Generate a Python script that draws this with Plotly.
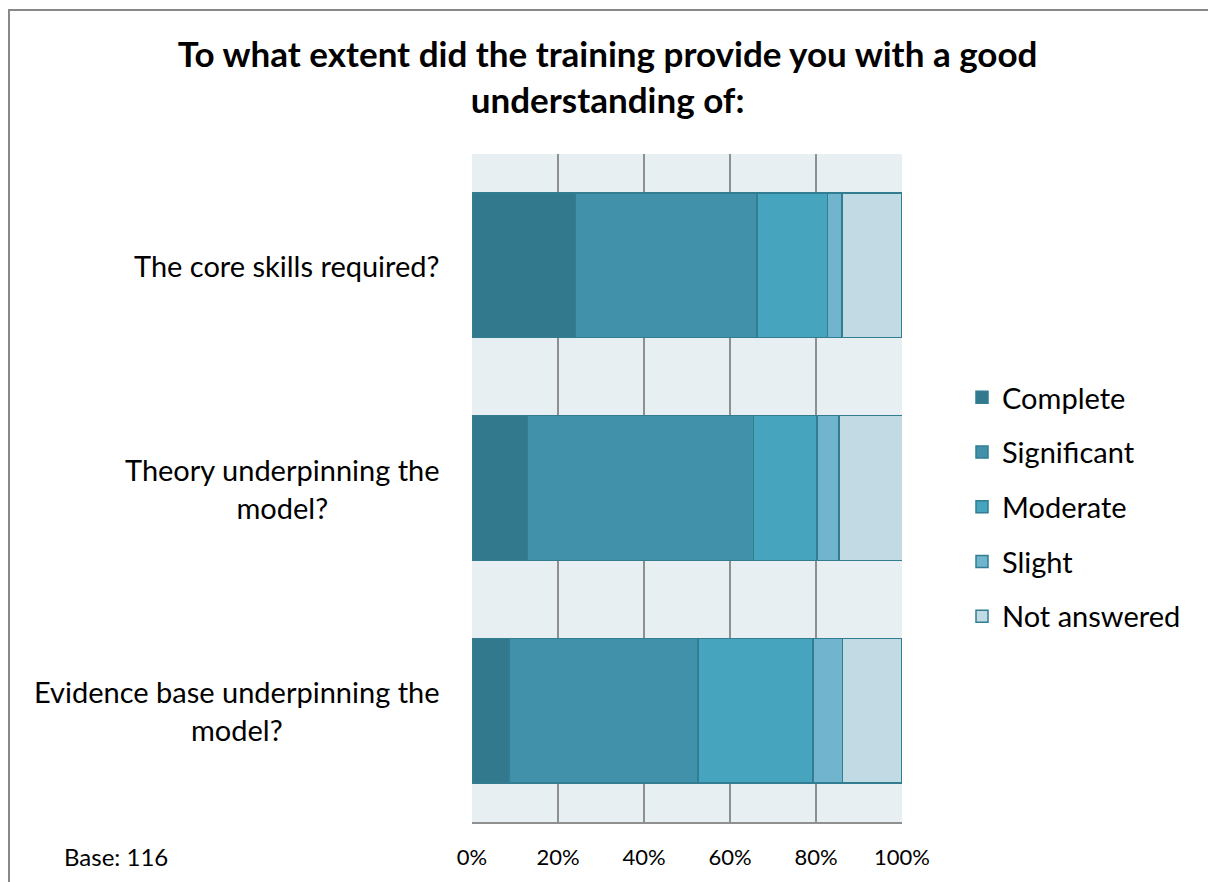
import plotly.graph_objects as go

questions = ["The core skills required?",
             "Theory underpinning the<br>model?",
             "Evidence base underpinning the<br>model?"]
levels = ["Complete", "Significant", "Moderate", "Slight", "Not answered"]
# percent of respondents (base 116)
complete = [24.1, 12.9, 8.6]
significant = [42.2, 52.6, 44.0]
moderate = [16.4, 14.7, 26.7]
slight = [3.4, 5.2, 6.9]
not_answered = [13.8, 14.7, 13.8]
ticks = [0, 20, 40, 60, 80, 100]
tick_text = ["0%", "20%", "40%", "60%", "80%", "100%"]

colors = ["#32798D", "#4091A9", "#46A4BE", "#70B5CD", "#C2DAE3"]
series = [complete, significant, moderate, slight, not_answered]

W, H = 1208, 882
L, R, T, B = 472, 902, 154, 822
font = "Lato"

fig = go.Figure()
for name, vals, c in zip(levels, series, colors):
    fig.add_trace(go.Bar(
        y=questions, x=vals, name=name, orientation="h",
        marker=dict(color=c, line=dict(color="#327D92", width=1.5)),
        legendgroup=name, width=0.65,
    ))

fig.update_layout(
    width=W, height=H,
    barmode="stack",
    plot_bgcolor="#E8EFF3",
    paper_bgcolor="white",
    margin=dict(l=L, r=W - R, t=T, b=H - B, autoexpand=False),
    font=dict(family=font, color="black"),
    title=dict(
        text="<b>To what extent did the training provide you with a good<br>understanding of:</b>",
        x=0.503, xref="container", xanchor="center",
        y=1 - 67 / H, yref="container", yanchor="top",
        font=dict(size=35, family=font),
    ),
    legend=dict(
        x=(962 - L) / (R - L), xanchor="left",
        y=(B - 507) / (B - T), yanchor="middle",
        font=dict(size=29, family=font),
        traceorder="grouped", tracegroupgap=14,
        bgcolor="rgba(0,0,0,0)",
    ),
    showlegend=True,
)

fig.update_xaxes(
    range=[0, 100], tickvals=ticks, ticktext=tick_text,
    showgrid=True, gridcolor="#8F8F8F", gridwidth=2,
    zeroline=False, showline=True, linecolor="#8F8F8F", linewidth=2,
    mirror=False, ticks="outside", ticklen=15, tickcolor="rgba(0,0,0,0)",
    tickfont=dict(size=22, family=font),
)
fig.update_yaxes(
    autorange="reversed", showticklabels=False, showgrid=False,
    zeroline=False, showline=False,
)

for q in questions:
    fig.add_annotation(
        x=-30 / (R - L), xref="paper", y=q, yref="y",
        text=q, showarrow=False, xanchor="right", yanchor="middle",
        align="center", font=dict(size=29, family=font),
    )

fig.add_annotation(
    x=(62 - L) / (R - L), xref="paper", y=(B - 857) / (B - T), yref="paper",
    text="Base: 116", showarrow=False, xanchor="left", yanchor="middle",
    font=dict(size=24, family=font),
)

# outer chart border
fig.add_shape(
    type="rect", xref="paper", yref="paper",
    x0=(9 - L) / (R - L), x1=(1215 - L) / (R - L),
    y0=(B - 900) / (B - T), y1=(B - 10) / (B - T),
    line=dict(color="#888888", width=2), layer="below",
)

fig.write_html("out.html", config={"displayModeBar": False},
               post_script="document.body.style.margin='0';")
